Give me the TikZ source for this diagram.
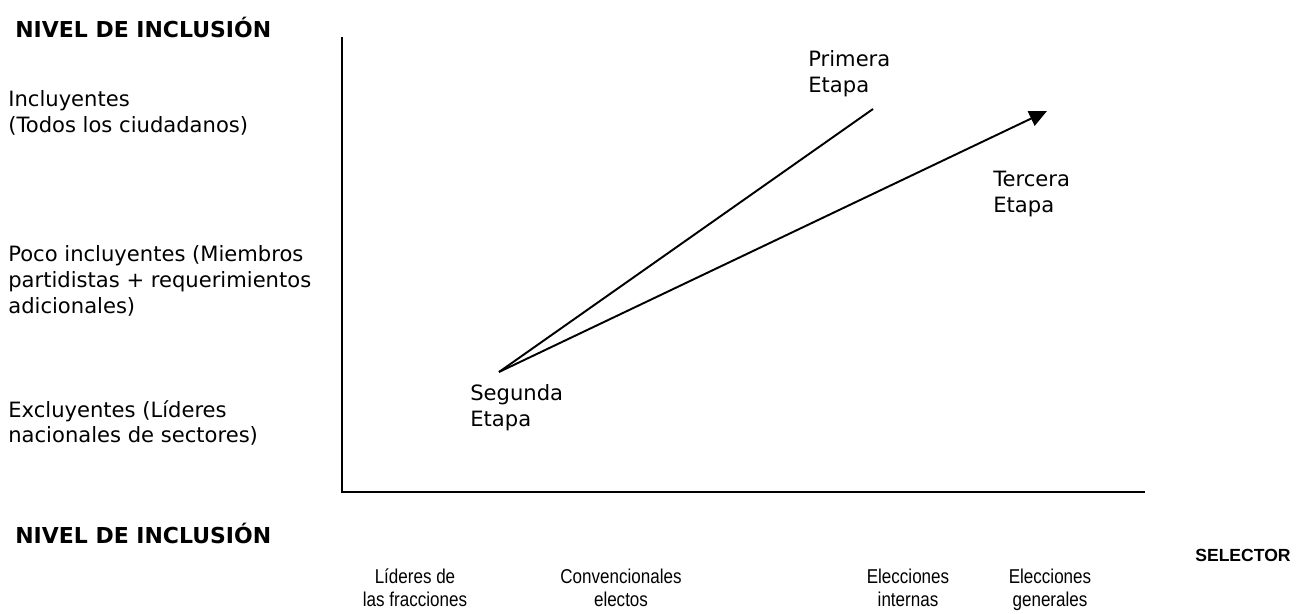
\documentclass[tikz,border=0pt]{standalone}
\usepackage{fontspec}
\setmainfont{DejaVu Sans}
\newfontfamily\arialfont{Liberation Sans}
\newfontfamily\narrowfont[FakeStretch=0.85]{Liberation Sans}
\usetikzlibrary{arrows.meta}
\pgfdeclarelayer{edgelayer}
\pgfdeclarelayer{nodelayer}
\pgfsetlayers{edgelayer,nodelayer,main}
\tikzstyle{txt}=[anchor=west,align=left,inner sep=0pt,font=\fontsize{12}{14.6}\selectfont]
\tikzstyle{heading}=[anchor=west,inner sep=0pt,font=\fontsize{12.5}{14.6}\selectfont\bfseries]
\tikzstyle{selector_head}=[anchor=east,inner sep=0pt,font=\arialfont\fontsize{10}{12}\selectfont\bfseries]
\tikzstyle{selector}=[anchor=base,align=center,inner sep=0pt,font=\narrowfont\fontsize{11.4}{12.8}\selectfont]
\tikzstyle{axis}=[draw=black,line width=1.1pt]
\tikzstyle{stage}=[draw=black,line width=1.1pt]
\tikzstyle{stage_arrow}=[-{Triangle[length=10pt,width=9pt]},draw=black,line width=1.1pt]

\begin{document}
\begin{tikzpicture}[x=0.02cm,y=-0.02cm]
	\useasboundingbox (0,0) rectangle (1301,614);
	\begin{pgfonlayer}{nodelayer}
		\node [style=heading] (h1) at (15,27) {NIVEL DE INCLUSIÓN};
		\node [style=txt] (0) at (8,113) {Incluyentes\\(Todos los ciudadanos)};
		\node [style=txt] (1) at (8,281) {Poco incluyentes (Miembros\\partidistas + requerimientos\\adicionales)};
		\node [style=txt] (2) at (8,423) {Excluyentes (Líderes\\nacionales de sectores)};
		\node [style=txt] (3) at (470,408) {Segunda\\Etapa};
		\node [style=txt] (4) at (808,74) {Primera\\Etapa};
		\node [style=txt] (5) at (993,194) {Tercera\\Etapa};
		\node [style=heading] (h2) at (15,533) {NIVEL DE INCLUSIÓN};
		\node [style=selector_head] (h3) at (1291,555) {SELECTOR};
		\node [style=selector] (6) at (415,606) {Líderes de\\las fracciones};
		\node [style=selector] (7) at (621,606) {Convencionales\\electos};
		\node [style=selector] (8) at (908,606) {Elecciones\\internas};
		\node [style=selector] (9) at (1050,606) {Elecciones\\generales};
	\end{pgfonlayer}
	\coordinate (top) at (342,37);
	\coordinate (origin) at (342,492);
	\coordinate (right) at (1145,492);
	\coordinate (s) at (499,372);
	\coordinate (p) at (873,109);
	\coordinate (t) at (1047,111);
	\begin{pgfonlayer}{edgelayer}
		\draw [style=axis] (top) -- (origin) -- (right);
		\draw [style=stage] (s) -- (p);
		\draw [style=stage_arrow] (s) -- (t);
	\end{pgfonlayer}
\end{tikzpicture}
\end{document}
